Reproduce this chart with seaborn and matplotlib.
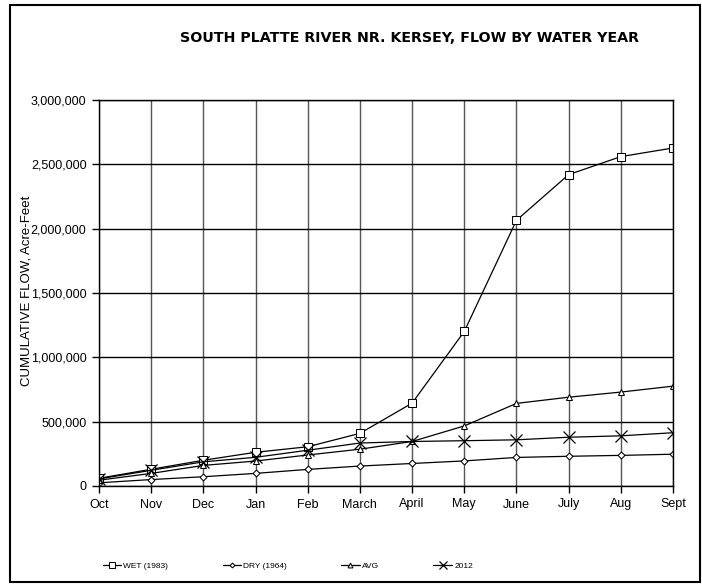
import matplotlib
matplotlib.use("Agg")
import matplotlib.pyplot as plt
import matplotlib.ticker as mticker
from matplotlib.patches import Rectangle
import seaborn as sns

# data
months = ["Oct", "Nov", "Dec", "Jan", "Feb", "March", "April", "May",
          "June", "July", "Aug", "Sept"]
wet_1983 = [60000, 130000, 200000, 262000, 305000, 409000, 644000, 1201000,
            2065000, 2420000, 2560000, 2627000]
dry_1964 = [25000, 50000, 72000, 98000, 129000, 155000, 175000, 195000,
            222000, 231000, 238000, 247000]
avg = [45000, 98000, 160000, 194000, 241000, 286000, 346000, 467000,
       642000, 690000, 730000, 776000]
y2012 = [55000, 122000, 188000, 223000, 278000, 334000, 346000, 352000,
         359000, 379000, 390000, 414000]

series = [
    ("WET (1983)", wet_1983, dict(marker="s", markersize=5.5)),
    ("DRY (1964)", dry_1964, dict(marker="D", markersize=3.5)),
    ("AVG", avg, dict(marker="^", markersize=5)),
    ("2012", y2012, dict(marker="x", markersize=8, markeredgewidth=0.9)),
]

sns.set_style("white")
plt.rcParams["font.family"] = ["Liberation Sans", "DejaVu Sans"]
plt.rcParams["text.color"] = "black"
plt.rcParams["xtick.color"] = "black"
plt.rcParams["ytick.color"] = "black"

fig = plt.figure(figsize=(7.02, 5.84), dpi=100)
ax = fig.add_axes([99 / 702, 1 - 486 / 584, 574 / 702, 386 / 584])

x = list(range(len(months)))
for name, vals, style in series:
    sns.lineplot(x=x, y=vals, ax=ax, color="black", linewidth=0.9,
                 markerfacecolor="white", markeredgecolor="black",
                 label=name, **style)

ax.set_xlim(0, len(months) - 1)
ax.set_ylim(0, 3000000)
ax.set_xticks(x)
ax.set_xticklabels(months)
ax.set_yticks(range(0, 3000001, 500000))
ax.yaxis.set_major_formatter(mticker.FuncFormatter(lambda v, p: f"{int(v):,}"))
ax.tick_params(axis="both", labelsize=9, length=5, width=1, color="black",
               labelcolor="black", direction="out", pad=4, left=True, bottom=True)
ax.yaxis.grid(True, color="black", linewidth=1.0)
ax.xaxis.grid(True, color="#555555", linewidth=1.0)
ax.set_axisbelow(True)
for s in ax.spines.values():
    s.set_color("black")
    s.set_linewidth(1.0)

ax.set_ylabel("")
ax.set_xlabel("")
fig.text(27 / 702, 1 - 291 / 584, "CUMULATIVE FLOW, Acre-Feet", rotation=90,
         ha="center", va="center", fontsize=9.5, color="black")

fig.text(410 / 702, 1 - 38 / 584, "SOUTH PLATTE RIVER NR. KERSEY, FLOW BY WATER YEAR",
         ha="center", va="center", fontsize=10.3, fontweight="bold", color="black",
         family=["DejaVu Sans"])

handles, labels = ax.get_legend_handles_labels()
ax.legend_.remove()
fig.legend(handles, labels, loc="center", bbox_to_anchor=(0.41, 1 - 566 / 584),
           ncol=4, frameon=False, fontsize=6, handlelength=2.2,
           columnspacing=6.5, handletextpad=0.3, markerscale=0.7,
           labelcolor="black")

fig.add_artist(Rectangle((10 / 702, 2 / 584), 690 / 702, 577 / 584,
                         transform=fig.transFigure, fill=False,
                         edgecolor="black", linewidth=1.5))

fig.savefig("out.png", dpi=100)
